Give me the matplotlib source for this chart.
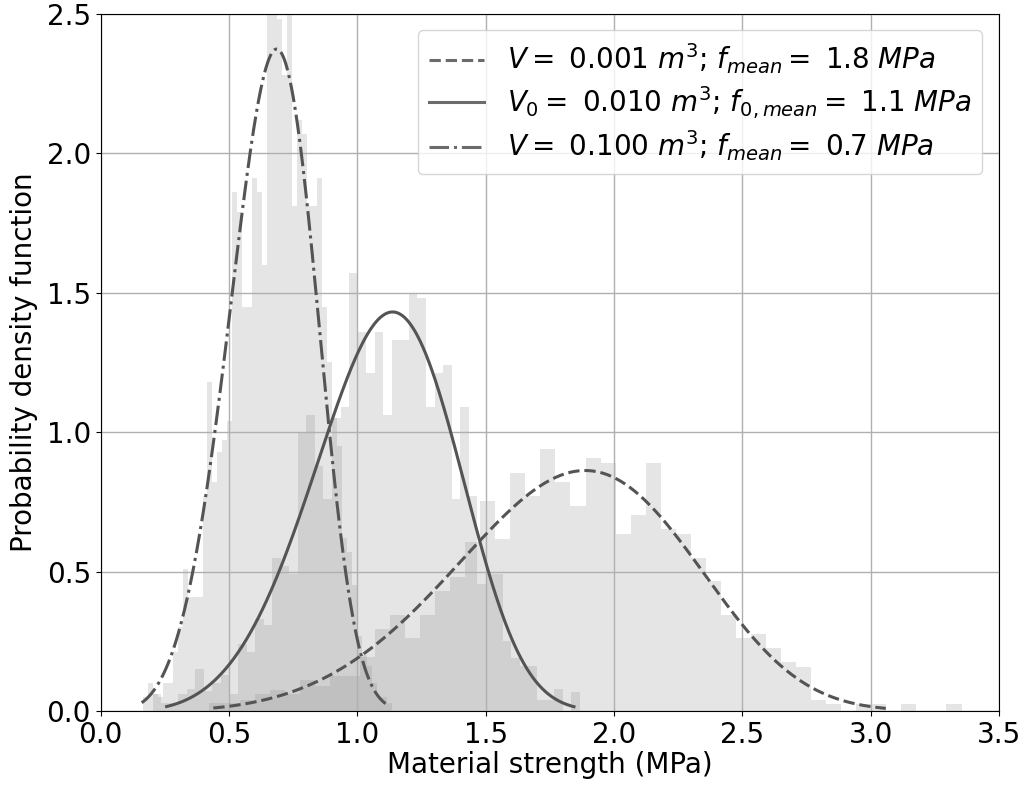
import numpy as np
import matplotlib
matplotlib.use("Agg")
import matplotlib.pyplot as plt

# ── histogram data (density per bin, 50 bins each) ──────────────────────────
# V = 0.001 m3
h1_lo, h1_hi = 0.424, 3.354
h1 = [0.03, 0.03, 0.04, 0.06, 0.075, 0.06, 0.11, 0.09, 0.125, 0.125,
      0.195, 0.294, 0.344, 0.263, 0.344, 0.43, 0.482, 0.605, 0.754, 0.617,
      0.854, 0.771, 0.94, 0.822, 0.735, 0.907, 0.889, 0.635, 0.703, 0.889,
      0.653, 0.635, 0.549, 0.466, 0.344, 0.262, 0.276, 0.226, 0.176, 0.158,
      0.039, 0.025, 0.0, 0.025, 0.025, 0.0, 0.025, 0.0, 0.0, 0.025]

# V0 = 0.010 m3
h0_lo, h0_hi = 0.202, 1.867
h0 = [0.06, 0.03, 0.03, 0.06, 0.08, 0.15, 0.07, 0.10, 0.13, 0.06,
      0.24, 0.21, 0.33, 0.31, 0.55, 0.52, 0.49, 1.00, 1.06, 0.88,
      0.76, 1.05, 1.09, 1.57, 1.36, 1.21, 1.36, 1.06, 1.33, 1.33,
      1.50, 1.48, 1.09, 1.21, 1.24, 0.76, 1.09, 0.77, 0.455, 0.49,
      0.49, 0.25, 0.19, 0.16, 0.16, 0.04, 0.04, 0.08, 0.0, 0.067]

# V = 0.100 m3
h2_lo, h2_hi = 0.164, 1.134
h2 = [0.05, 0.10, 0.06, 0.05, 0.10, 0.10, 0.21, 0.30, 0.51, 0.41,
      0.41, 0.41, 0.77, 1.18, 0.82, 0.93, 0.97, 1.04, 1.86, 1.79,
      1.45, 1.45, 1.91, 1.86, 1.60, 2.60, 2.60, 2.48, 2.28, 2.65,
      1.81, 2.12, 2.07, 1.81, 1.81, 1.91, 1.45, 1.25, 1.05, 0.95,
      0.62, 0.57, 0.45, 0.27, 0.20, 0.16, 0.10, 0.05, 0.05, 0.03]

# ── Weibull fits (shape, scale) and plotted range ──────────────────────────
m_shape = 4.55
scales  = [1.993, 1.201, 0.724]
x_range = [(0.439, 3.059), (0.257, 1.844), (0.160, 1.110)]
styles  = ["--", "-", "-."]
labels  = [r"$V=$ 0.001 $m^3$; $f_{mean}=$ 1.8 $MPa$",
           r"$V_0=$ 0.010 $m^3$; $f_{0,mean}=$ 1.1 $MPa$",
           r"$V=$ 0.100 $m^3$; $f_{mean}=$ 0.7 $MPa$"]


def weibull_pdf(x, m, s):
    return (m / s) * (x / s) ** (m - 1) * np.exp(-(x / s) ** m)


plt.rcParams["font.family"] = ["DejaVu Sans"]
plt.rcParams["font.size"] = 20

fig = plt.figure(figsize=(10.22, 7.87), dpi=100)
ax = fig.add_axes([0.0985, 0.0966, 0.879, 0.886])

for lo, hi, h in [(h1_lo, h1_hi, h1), (h0_lo, h0_hi, h0), (h2_lo, h2_hi, h2)]:
    edges = np.linspace(lo, hi, len(h) + 1)
    ax.bar(edges[:-1], h, width=np.diff(edges), align="edge",
           color="gray", alpha=0.2, linewidth=0)

for s, (a, b), ls, lab in zip(scales, x_range, styles, labels):
    x = np.linspace(a, b, 400)
    ax.plot(x, weibull_pdf(x, m_shape, s), ls, color="0.33", lw=2.2, label=lab)

ax.set_xlim(0, 3.5)
ax.set_ylim(0, 2.5)
ax.set_xticks(np.arange(0, 3.51, 0.5))
ax.set_yticks(np.arange(0, 2.51, 0.5))
ax.grid(True, color="#b0b0b0", lw=1.0)
ax.set_xlabel("Material strength (MPa)", labelpad=2)
ax.set_ylabel("Probability density function", labelpad=6)
leg = ax.legend(loc="upper right", fontsize=20, labelspacing=0.28,
                borderaxespad=0.6)
for line in leg.get_lines():
    line.set_color("0.42")

fig.savefig("out.png", dpi=100)
